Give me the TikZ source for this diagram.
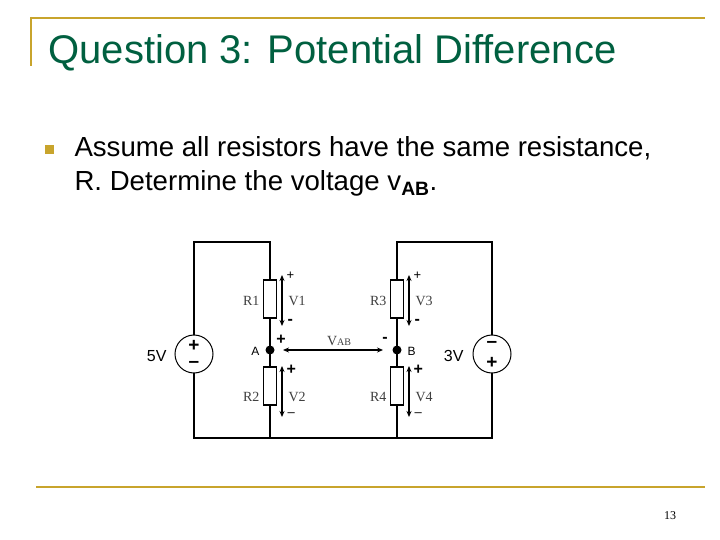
\documentclass[tikz,border=0pt]{standalone}
\usepackage{fontspec}
\setmainfont{Liberation Sans}
\newfontfamily\serf{Liberation Serif}
\usetikzlibrary{arrows.meta}
\definecolor{gold}{HTML}{C8A42C}
\definecolor{titlegreen}{HTML}{006040}
\begin{document}
\begin{tikzpicture}[x=1pt,y=-1pt,
  wire/.style={line width=1.6pt},
  res/.style={draw,line width=1.2pt,fill=white,minimum width=13pt,minimum height=38pt,inner sep=0pt},
  src/.style={draw,circle,line width=1pt,fill=white,minimum size=38pt,inner sep=0pt},
  lab/.style={font=\serf\fontsize{14}{14}\selectfont,text=black!75},
  sgn/.style={font=\fontsize{16}{16}\selectfont\bfseries},
  bsgn/.style={font=\fontsize{19}{19}\selectfont\bfseries,inner sep=0pt},
  vsgn/.style={font=\fontsize{13}{13}\selectfont},
  varr/.style={{Stealth[length=6pt,width=5pt]}-{Stealth[length=6pt,width=5pt]},line width=1.2pt}]
\useasboundingbox (0,0) rectangle (720,540);
\fill[white] (0,0) rectangle (720,540);
% header decoration
\draw[gold,line width=2pt] (30,18) -- (705,18);
\draw[gold,line width=2pt] (31,17) -- (31,66);
\draw[gold,line width=2pt] (36,487) -- (705,487);
\node[anchor=base west,text=titlegreen,font=\fontsize{40}{40}\selectfont] (title) at (45,64) {Question 3: Potential Difference};
\fill[gold] (45,145) rectangle (54,154) coordinate (bul);
\node[anchor=base west,font=\fontsize{27.6}{27}\selectfont] (body) at (71,157) {Assume all resistors have the same resistance,};
\node[anchor=base west,font=\fontsize{27.6}{27}\selectfont] (body2) at (71,191) {R. Determine the voltage v\textsubscript{\bfseries AB}.};
\node[font=\serf\fontsize{12}{12}\selectfont] (pg) at (670,516) {13};
% circuit coordinates
\coordinate (TL) at (194,242); \coordinate (TA) at (270,242);
\coordinate (BL) at (194,438); \coordinate (BA) at (270,438);
\coordinate (TB) at (397,242); \coordinate (TR) at (492,242);
\coordinate (BB) at (397,438); \coordinate (BR) at (492,438);
\coordinate (A) at (270,350); \coordinate (B) at (397,350);
\draw[wire] (BA) -- (BL) -- (TL) -- (TA) -- (BA) -- (BB) -- (TB) -- (TR) -- (BR) -- (BB);
\node[res] (R1) at (270,299) {};
\node[res] (R2) at (270,386) {};
\node[res] (R3) at (397,299) {};
\node[res] (R4) at (397,386) {};
\node[src] (S1) at (194,354) {};
\node[src] (S2) at (492,354) {};
\node[bsgn] at (194,346) {+};
\node[bsgn] at (194,364) {--};
\node[bsgn] at (492,344) {--};
\node[bsgn] at (492,363) {+};
\node[font=\fontsize{16}{16}\selectfont,anchor=east] (l5) at (170,356) {5V};
\node[font=\fontsize{16}{16}\selectfont,anchor=east] (l3) at (467,356) {3V};
\fill (A) circle (4.5pt); \fill (B) circle (4.5pt);
\node[font=\fontsize{12}{12}\selectfont,anchor=east] at (263,351) {A};
\node[font=\fontsize{12}{12}\selectfont,anchor=west] at (404,351) {B};
% voltage arrows
\foreach \r/\v/\x in {R1/V1/282,R3/V3/409}{
  \draw[varr] (\x,275) -- (\x,326);
  \node[lab,anchor=west] at (\x+3,301) {\v};
  \node[lab,anchor=east] at (\x-19,301) {\r};
  \node[vsgn,anchor=west] at (\x+1,276) {+};
  \node[sgn,anchor=west] at (\x+2,322) {-};
}
\foreach \r/\v/\x in {R2/V2/282,R4/V4/409}{
  \draw[varr] (\x,366) -- (\x,417);
  \node[lab,anchor=west] at (\x+3,397) {\v};
  \node[lab,anchor=east] at (\x-19,397) {\r};
  \node[sgn,anchor=west] at (\x+1,370) {+};
  \node[vsgn,anchor=west] at (\x+2,415) {--};
}
\draw[varr] (283,350) -- (383,350);
\node[lab] at (339,341) {V\fontsize{10}{10}\selectfont AB};
\node[sgn] at (281,340) {+};
\node[sgn] at (385,340) {-};
\end{tikzpicture}
\end{document}
